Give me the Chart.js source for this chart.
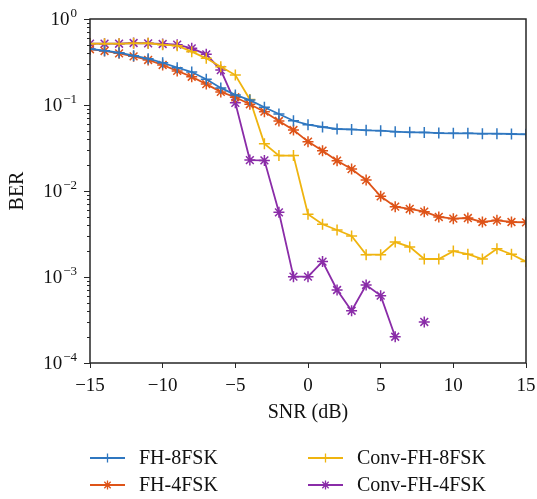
<!DOCTYPE html>
<html>
<head>
<meta charset="utf-8">
<script src="https://cdn.jsdelivr.net/npm/chart.js@4/dist/chart.umd.min.js"></script>
<style>
html, body { margin: 0; padding: 0; background: #fff; }
</style>
</head>
<body>
<canvas id="grafico" width="537" height="499"></canvas>
<script>
// Datos
const snr = [-15, -14, -13, -12, -11, -10, -9, -8, -7, -6, -5, -4, -3, -2, -1, 0, 1, 2, 3, 4, 5, 6, 7, 8, 9, 10, 11, 12, 13, 14, 15]
const fh8fsk = [0.448, 0.428, 0.406, 0.375, 0.346, 0.310, 0.272, 0.242, 0.199, 0.158, 0.131, 0.114, 0.094, 0.0786, 0.0656, 0.059, 0.0555, 0.0526, 0.052, 0.0507, 0.0503, 0.049, 0.0481, 0.048, 0.0472, 0.0469, 0.0468, 0.0464, 0.0464, 0.046, 0.0456]
const fh4fsk = [0.445, 0.425, 0.399, 0.368, 0.334, 0.292, 0.249, 0.213, 0.175, 0.142, 0.123, 0.102, 0.0836, 0.0651, 0.0512, 0.0375, 0.0294, 0.0225, 0.018, 0.0134, 0.00867, 0.00657, 0.00618, 0.00575, 0.00499, 0.00477, 0.00485, 0.00436, 0.00456, 0.00436, 0.00432]
const convFh8fsk = [0.516, 0.516, 0.516, 0.521, 0.521, 0.503, 0.49, 0.417, 0.349, 0.279, 0.223, 0.116, 0.0355, 0.0258, 0.0258, 0.00536, 0.0041, 0.00352, 0.003, 0.00182, 0.00182, 0.00255, 0.00224, 0.00162, 0.00162, 0.002, 0.00184, 0.00162, 0.00213, 0.00184, 0.00151]
const convFh4fsk = [0.516, 0.516, 0.516, 0.526, 0.521, 0.512, 0.503, 0.456, 0.388, 0.255, 0.106, 0.0229, 0.0227, 0.00565, 0.00101, 0.00101, 0.00151, 0.000706, 0.000405, 0.000807, 0.000607, 0.000202, null, 0.0003, null, null, null, null, null, null, null]
const etiquetas = ['FH-8FSK', 'FH-4FSK', 'Conv-FH-8FSK', 'Conv-FH-4FSK']
const decadas = [0, -1, -2, -3, -4]

const colores = ['#2f77c0', '#de5318', '#efb40f', '#8a2ca8']
const fuente = "'Liberation Serif', 'Times New Roman', serif"
const negro = '#262626'

function serie(i, valores, estilo) {
    return {
        label: etiquetas[i],
        data: valores.map((v, k) => ({ x: snr[k], y: v })),
        borderColor: colores[i],
        backgroundColor: colores[i],
        borderWidth: 1.8,
        pointStyle: estilo,
        pointRadius: 5.5,
        pointBorderWidth: 1.5,
        spanGaps: false,
        tension: 0
    }
}

// Marco, ticks del eje y con exponentes y leyenda
const marco = {
    id: 'marco',
    afterDraw(chart) {
        const { ctx, chartArea: a, scales: { y } } = chart
        ctx.save()
        ctx.strokeStyle = negro
        ctx.lineWidth = 1.5
        ctx.strokeRect(a.left, a.top, a.right - a.left, a.bottom - a.top)

        ctx.lineWidth = 1
        decadas.forEach(e => {
            const base = Math.pow(10, e)
            const py = Math.round(y.getPixelForValue(base)) + 0.5
            ctx.beginPath()
            ctx.moveTo(a.left - 6, py)
            ctx.lineTo(a.left, py)
            ctx.stroke()
            if (e < 0) {
                for (let k = 2; k <= 9; k++) {
                    const pm = Math.round(y.getPixelForValue(k * base)) + 0.5
                    ctx.beginPath()
                    ctx.moveTo(a.left - 3, pm)
                    ctx.lineTo(a.left, pm)
                    ctx.stroke()
                }
            }
            // etiqueta 10^e
            const exp = e < 0 ? '\u2212' + Math.abs(e) : String(e)
            ctx.fillStyle = '#111'
            ctx.font = '13px ' + fuente
            const wExp = ctx.measureText(exp).width
            const xDer = a.left - 13
            ctx.textAlign = 'left'
            ctx.textBaseline = 'alphabetic'
            ctx.fillText(exp, xDer - wExp, py - 3)
            ctx.font = '19px ' + fuente
            ctx.textAlign = 'right'
            ctx.textBaseline = 'middle'
            ctx.fillText('10', xDer - wExp - 1, py + 1)
        })

        // leyenda en dos columnas
        const items = [
            { i: 0, x: 90, y: 458, estilo: 'cross' },
            { i: 1, x: 90, y: 485, estilo: 'star' },
            { i: 2, x: 308, y: 458, estilo: 'cross' },
            { i: 3, x: 308, y: 485, estilo: 'star' }
        ]
        items.forEach(it => {
            ctx.strokeStyle = colores[it.i]
            ctx.lineWidth = 2
            ctx.beginPath()
            ctx.moveTo(it.x, it.y)
            ctx.lineTo(it.x + 35, it.y)
            ctx.stroke()
            ctx.lineWidth = 1.3
            Chart.helpers.drawPoint(ctx, { pointStyle: it.estilo, radius: 4.5, borderWidth: 1.3, rotation: 0 }, it.x + 17.5, it.y)
            ctx.fillStyle = '#111'
            ctx.font = '20px ' + fuente
            ctx.textAlign = 'left'
            ctx.textBaseline = 'middle'
            ctx.fillText(etiquetas[it.i], it.x + 49, it.y + 1)
        })
        ctx.restore()
    }
}

const contexto = document.getElementById('grafico').getContext('2d')
const grafico = new Chart(contexto, {
    type: 'line',
    data: {
        datasets: [
            serie(0, fh8fsk, 'cross'),
            serie(1, fh4fsk, 'star'),
            serie(2, convFh8fsk, 'cross'),
            serie(3, convFh4fsk, 'star')
        ]
    },
    options: {
        responsive: false,
        animation: false,
        layout: { autoPadding: false, padding: { top: 19, right: 11, left: 0, bottom: 70 } },
        plugins: {
            legend: { display: false },
            tooltip: { enabled: false },
            title: { display: false }
        },
        scales: {
            x: {
                type: 'linear',
                min: -15,
                max: 15,
                // alto fijo y sin relleno extra por las etiquetas de los extremos
                afterFit: s => { s.height = 66; s.paddingLeft = 0; s.paddingRight = 0 },
                border: { display: false },
                grid: { drawOnChartArea: false, tickLength: 5, color: negro, lineWidth: 1 },
                ticks: {
                    stepSize: 5,
                    padding: 7,
                    color: '#111',
                    font: { family: fuente, size: 19 },
                    maxRotation: 0,
                    callback: v => v < 0 ? '\u2212' + Math.abs(v) : String(v)
                },
                title: {
                    display: true,
                    text: 'SNR (dB)',
                    color: '#111',
                    font: { family: fuente, size: 20 },
                    padding: { top: 0, bottom: 4 }
                }
            },
            y: {
                type: 'logarithmic',
                min: 1e-4,
                max: 1,
                afterFit: s => { s.width = 90 },
                border: { display: false },
                grid: { display: false },
                ticks: { display: false },
                title: {
                    display: true,
                    text: 'BER',
                    color: '#111',
                    font: { family: fuente, size: 20 },
                    padding: { top: 6, bottom: 0 }
                }
            }
        }
    },
    plugins: [marco]
})
</script>
</body>
</html>
